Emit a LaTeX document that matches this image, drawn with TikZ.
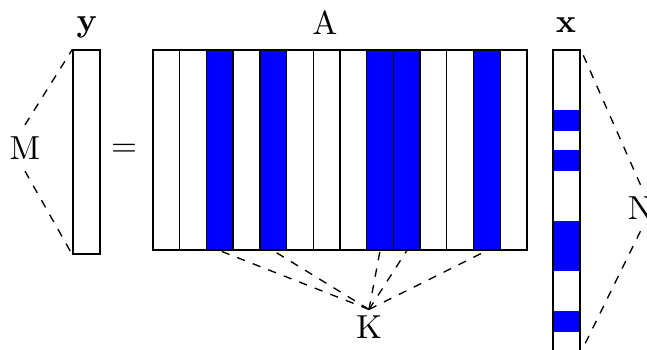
\documentclass[tikz,border=0pt]{standalone}
\usepackage{amsmath}
\usepackage{amssymb}
\begin{document}
\begin{tikzpicture}[x=0.3pt,y=-0.3pt]
    \tikzset{vecbox/.style={draw, black, minimum width=8.1pt, inner sep=0pt},
      colbox/.style={draw, black, minimum width=8.01pt, minimum height=60pt, inner sep=0pt},
      guide/.style={dash pattern=on 2.5pt off 2.5pt}}
    \useasboundingbox (0,0) rectangle (647,350);
    \clip (0,0) rectangle (647,350);

    \node[vecbox, minimum height=61.2pt] (yvec) at (86.5,152) {};
    \node (ylab) at (87,27) {$\mathbf{y}$};
    \node (M) at (25,148) {M};
    \node (eq) at (124,150) {$=$};

    \foreach \i in {0,1,3,5,6,7,10,11,13}
      \node[colbox] (c\i) at ({166.36+26.71*\i},150) {};
    \foreach \i in {2,4,8,9,12}
      \node[colbox, fill=blue] (c\i) at ({166.36+26.71*\i},150) {};
    \node (Alab) at (325,23) {A};
    \node[inner sep=1.8pt] (K) at (369,327.5) {K};

    \foreach \a/\b in {110/131,150/171,221/271,311/332}
      \fill[blue] (553,\a) rectangle (580,\b);
    \node[vecbox, minimum height=90.6pt] (xvec) at (566.5,201) {};
    \node (xlab) at (566,25.5) {$\mathbf{x}$};
    \node (N) at (640.5,208) {N};

    \draw [guide] (M.north) -- (yvec.north west);
    \draw [guide] (M.south) -- (yvec.south west);
    \foreach \i in {2,4,8,9,12}
      \draw [guide] (K.north) -- (c\i.south);
    \draw [guide] (N.north) -- (xvec.north east);
    \draw [guide] (N.south) -- (xvec.south east);
\end{tikzpicture}
\end{document}
